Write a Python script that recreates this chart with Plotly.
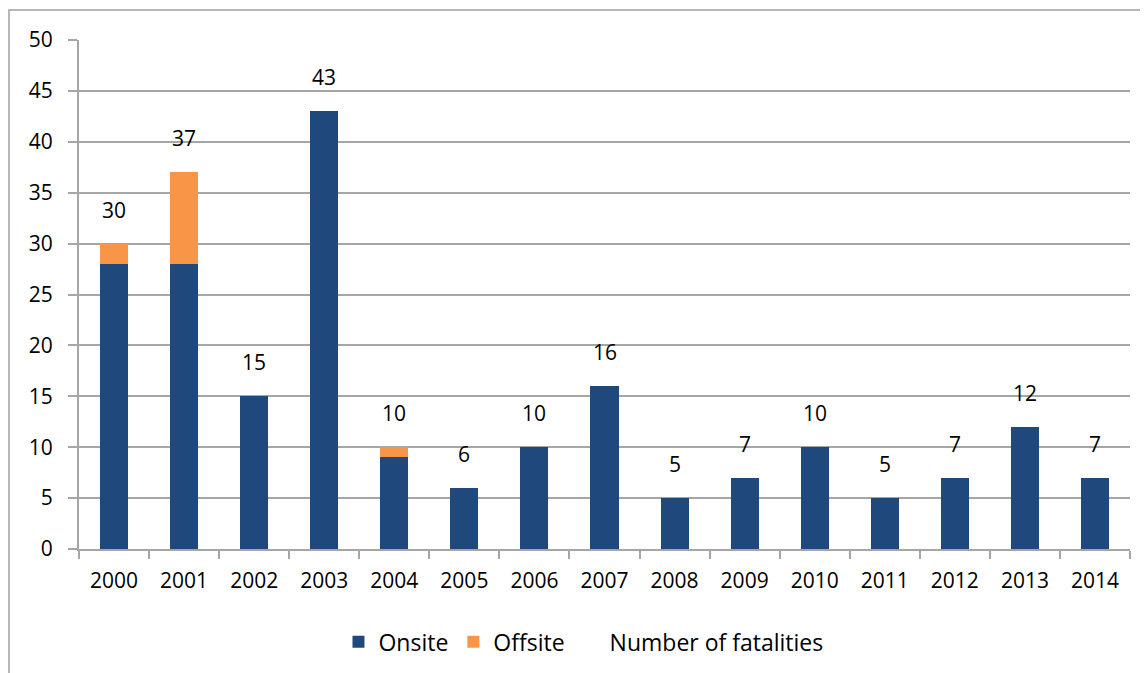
import plotly.graph_objects as go

years = ["2000", "2001", "2002", "2003", "2004", "2005", "2006", "2007",
         "2008", "2009", "2010", "2011", "2012", "2013", "2014"]
onsite = [28, 28, 15, 43, 9, 6, 10, 16, 5, 7, 10, 5, 7, 12, 7]
offsite = [2, 9, 0, 0, 1, 0, 0, 0, 0, 0, 0, 0, 0, 0, 0]
totals = [a + b for a, b in zip(onsite, offsite)]

FONT = "Open Sans"
FSIZE = 21
GRID = "#A6A6A6"

fig = go.Figure()
fig.add_trace(go.Bar(x=years, y=onsite, name="Onsite",
                     marker=dict(color="#1F497D", line=dict(width=0))))
fig.add_trace(go.Bar(x=years, y=offsite, name="Offsite",
                     marker=dict(color="#F79646", line=dict(width=0))))
# invisible series, only there for the legend entry
fig.add_trace(go.Scatter(x=years, y=totals, name="Number of fatalities",
                         mode="markers", marker=dict(color="rgba(0,0,0,0)", size=1),
                         hoverinfo="skip"))

# total labels above each stack (category index = position on the axis)
for i, t in enumerate(totals):
    fig.add_annotation(x=i, y=t, text=str(t), showarrow=False,
                       yshift=34, font=dict(family=FONT, size=FSIZE, color="black"))

# outer chart frame (extends past the window on right and bottom)
fig.add_shape(type="rect", xref="paper", yref="paper",
              x0=-0.0666, x1=1.1, y0=-0.4, y1=1.0589,
              line=dict(color="#A0A0A0", width=1.5), layer="below")

# page body has an 8px margin, so the margins are offset by that
fig.update_layout(
    width=1148, height=673,
    barmode="stack", bargap=0.6,
    plot_bgcolor="white", paper_bgcolor="white",
    margin=dict(l=71, r=26, t=32, b=132, autoexpand=False),
    font=dict(family=FONT, size=FSIZE, color="black"),
    legend=dict(orientation="h", x=0.48, xanchor="center", y=-0.14, yanchor="top",
                font=dict(family=FONT, size=23), itemwidth=30, traceorder="normal"),
    showlegend=True,
)
fig.update_xaxes(type="category", range=[-0.5, len(years) - 0.5],
                 showline=True, linecolor=GRID, linewidth=2,
                 ticks="outside", tickson="boundaries", ticklen=8, tickangle=0,
                 tickcolor=GRID, tickwidth=2, showgrid=False, ticklabelstandoff=12)
fig.update_yaxes(range=[0, 50], dtick=5, showline=True, linecolor=GRID, linewidth=2,
                 ticks="outside", ticklen=9, tickcolor=GRID, tickwidth=2,
                 gridcolor=GRID, gridwidth=2, zeroline=False, ticklabelstandoff=11)

fig.write_html("out.html")
